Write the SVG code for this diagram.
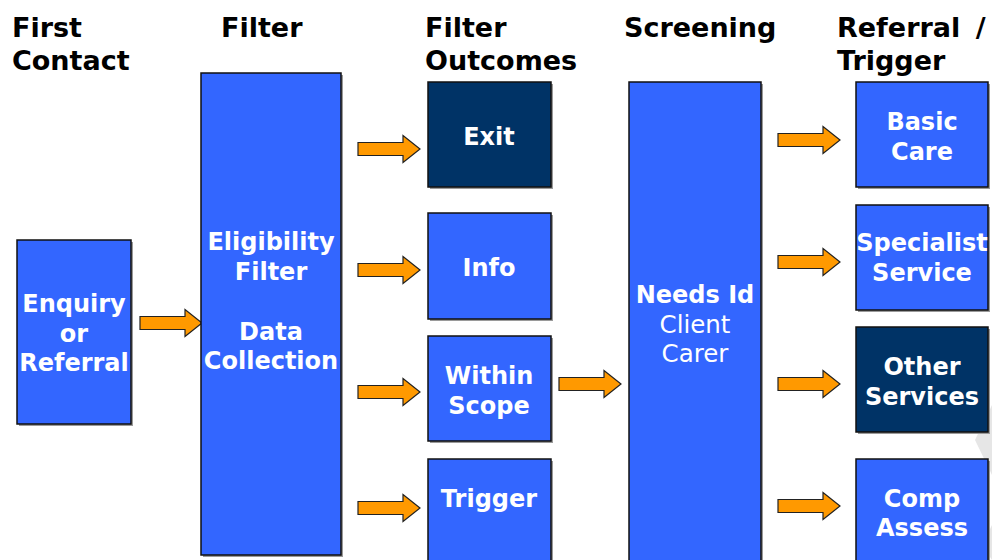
<svg xmlns="http://www.w3.org/2000/svg" width="992" height="560" viewBox="0 0 992 560">
  <defs>
    <style>
      .hdr { font-family: "DejaVu Sans", Verdana, sans-serif; font-weight: bold; font-size: 27px; fill: #000; }
      .box { fill: #3366FF; stroke: #111; stroke-width: 1.5; }
      .dark { fill: #003366; stroke: #111; stroke-width: 1.5; }
      .shadow { fill: #9a9a9a; }
      .lbl { font-family: "DejaVu Sans", Verdana, sans-serif; font-weight: bold; font-size: 24px; fill: #fff; text-anchor: middle; }
      .lbln { font-family: "DejaVu Sans", Verdana, sans-serif; font-size: 24.5px; fill: #fff; text-anchor: middle; }
      .arrow { fill: #FF9900; stroke: #222; stroke-width: 1.2; stroke-linejoin: miter; }
    </style>
    <path id="arr" d="M0,-6.5 H45 V-13.5 L62,0 L45,13.5 V6.5 H0 Z"/>
  </defs>

  <rect width="992" height="560" fill="#fff"/>

  <!-- faint background mark at right edge -->
  <polygon points="992,405 975,440 992,475" fill="#e6e6e6"/>
  <polygon points="992,525 982,545 992,560" fill="#e6e6e6"/>

  <!-- column headers -->
  <g id="headers">
    <text class="hdr" x="12" y="37">First</text>
    <text class="hdr" x="12" y="70">Contact</text>
    <text class="hdr" x="221" y="37">Filter</text>
    <text class="hdr" x="425" y="37">Filter</text>
    <text class="hdr" x="425" y="70">Outcomes</text>
    <text class="hdr" x="624" y="37">Screening</text>
    <text class="hdr" x="837" y="37" word-spacing="6">Referral /</text>
    <text class="hdr" x="837" y="70">Trigger</text>
  </g>

  <!-- connectors -->
  <g id="connectors">
    <use href="#arr" class="arrow" x="140" y="323"/>
    <use href="#arr" class="arrow" x="358" y="149"/>
    <use href="#arr" class="arrow" x="358" y="270"/>
    <use href="#arr" class="arrow" x="358" y="392"/>
    <use href="#arr" class="arrow" x="358" y="508"/>
    <use href="#arr" class="arrow" x="559" y="384"/>
    <use href="#arr" class="arrow" x="778" y="140"/>
    <use href="#arr" class="arrow" x="778" y="262"/>
    <use href="#arr" class="arrow" x="778" y="384"/>
    <use href="#arr" class="arrow" x="778" y="506"/>
  </g>

  <g id="enquiry">
    <rect class="shadow" x="19" y="242" width="114" height="184"/>
    <rect class="box" x="17" y="240" width="114" height="184"/>
    <text class="lbl" x="74" y="312">Enquiry</text>
    <text class="lbl" x="74" y="342">or</text>
    <text class="lbl" x="74" y="371">Referral</text>
  </g>

  <g id="filter">
    <rect class="shadow" x="203" y="75" width="140" height="482"/>
    <rect class="box" x="201" y="73" width="140" height="482"/>
    <text class="lbl" x="271" y="250">Eligibility</text>
    <text class="lbl" x="271" y="280">Filter</text>
    <text class="lbl" x="271" y="340">Data</text>
    <text class="lbl" x="271" y="369">Collection</text>
  </g>

  <g id="exit">
    <rect class="shadow" x="430" y="84" width="123" height="105"/>
    <rect class="dark" x="428" y="82" width="123" height="105"/>
    <text class="lbl" x="489" y="145">Exit</text>
  </g>

  <g id="info">
    <rect class="shadow" x="430" y="215" width="123" height="106"/>
    <rect class="box" x="428" y="213" width="123" height="106"/>
    <text class="lbl" x="489" y="276">Info</text>
  </g>

  <g id="within-scope">
    <rect class="shadow" x="430" y="338" width="123" height="105"/>
    <rect class="box" x="428" y="336" width="123" height="105"/>
    <text class="lbl" x="489" y="384">Within</text>
    <text class="lbl" x="489" y="414">Scope</text>
  </g>

  <g id="trigger">
    <rect class="shadow" x="430" y="461" width="123" height="110"/>
    <rect class="box" x="428" y="459" width="123" height="110"/>
    <text class="lbl" x="489" y="507">Trigger</text>
  </g>

  <g id="screening">
    <rect class="shadow" x="631" y="84" width="132" height="490"/>
    <rect class="box" x="629" y="82" width="132" height="490"/>
    <text class="lbl" x="695" y="303">Needs Id</text>
    <text class="lbln" x="695" y="333">Client</text>
    <text class="lbln" x="695" y="362">Carer</text>
  </g>

  <g id="basic-care">
    <rect class="shadow" x="858" y="84" width="132" height="105"/>
    <rect class="box" x="856" y="82" width="132" height="105"/>
    <text class="lbl" x="922" y="130">Basic</text>
    <text class="lbl" x="922" y="160">Care</text>
  </g>

  <g id="specialist-service">
    <rect class="shadow" x="858" y="207" width="132" height="105"/>
    <rect class="box" x="856" y="205" width="132" height="105"/>
    <text class="lbl" x="922" y="251">Specialist</text>
    <text class="lbl" x="922" y="281">Service</text>
  </g>

  <g id="other-services">
    <rect class="shadow" x="858" y="329" width="132" height="105"/>
    <rect class="dark" x="856" y="327" width="132" height="105"/>
    <text class="lbl" x="922" y="375">Other</text>
    <text class="lbl" x="922" y="405">Services</text>
  </g>

  <g id="comp-assess">
    <rect class="shadow" x="858" y="461" width="132" height="110"/>
    <rect class="box" x="856" y="459" width="132" height="110"/>
    <text class="lbl" x="922" y="507">Comp</text>
    <text class="lbl" x="922" y="536">Assess</text>
  </g>
</svg>
